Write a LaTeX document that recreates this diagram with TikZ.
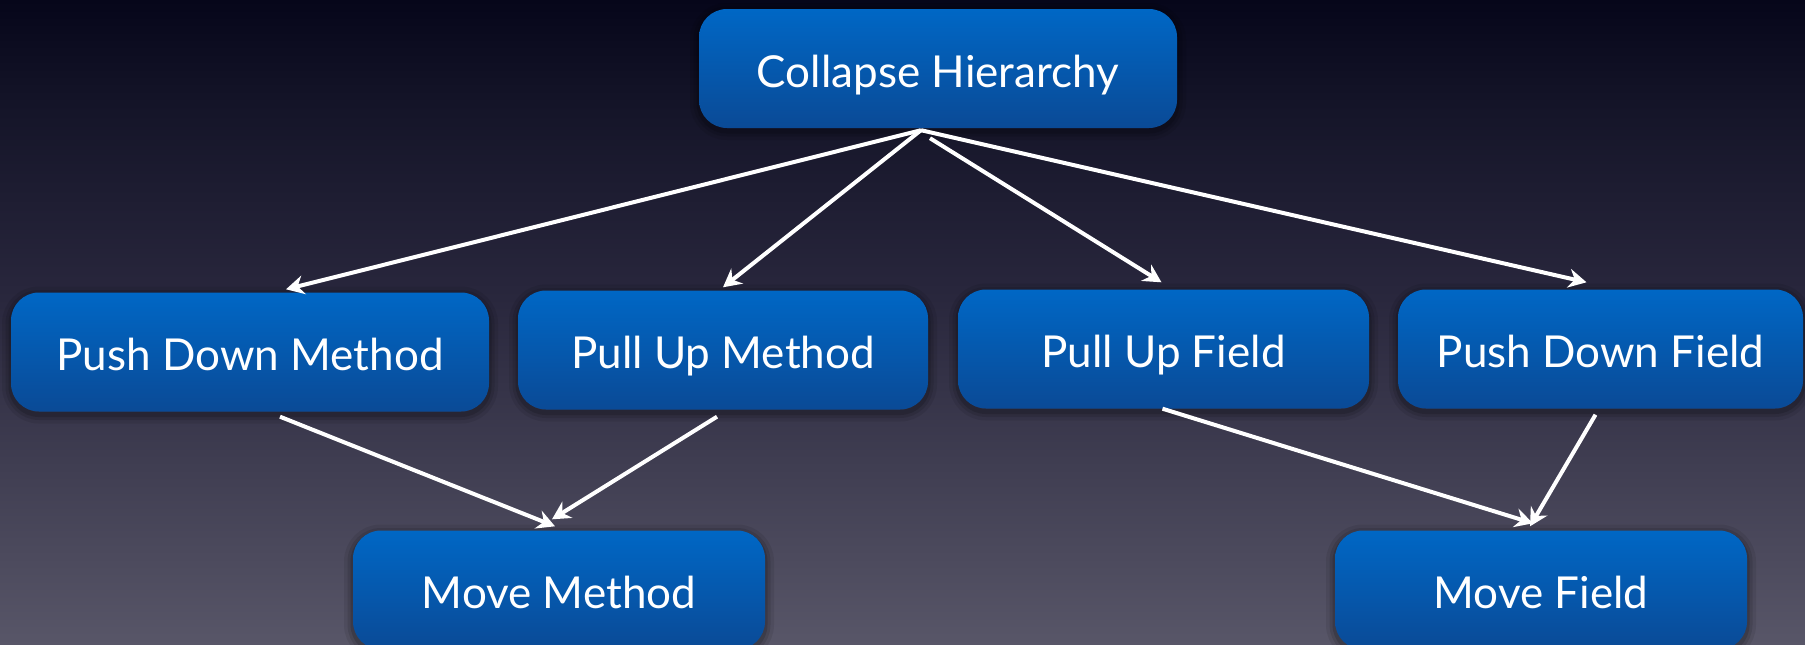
\documentclass[tikz,border=0pt]{standalone}
\usepackage{fontspec}
\setmainfont{Lato}
\usetikzlibrary{arrows.meta,calc,shadows}
\definecolor{bgtop}{RGB}{6,6,26}
\definecolor{bghi}{RGB}{20,20,40}
\definecolor{bgmid}{RGB}{40,38,60}
\definecolor{bgbot}{RGB}{88,86,104}
\definecolor{boxtop}{RGB}{0,103,197}
\definecolor{boxbot}{RGB}{10,74,150}
\pgfdeclareverticalshading{bgshade}{100bp}{color(0bp)=(bgbot); color(25bp)=(bgbot); color(52.5bp)=(bgmid); color(67bp)=(bghi); color(75bp)=(bgtop); color(100bp)=(bgtop)}
\tikzset{
  refbox/.style={rectangle, rounded corners=28pt, top color=boxtop, bottom color=boxbot,
    text=white, font=\fontsize{44}{50}\selectfont, inner sep=0pt,
    text height=37pt, text depth=0pt, minimum height=119pt,
    general shadow={draw=black, line width=18pt, opacity=0.08, shadow yshift=-3pt},
    general shadow={draw=black, line width=11pt, opacity=0.10, shadow yshift=-3pt},
    general shadow={draw=black, line width=5pt, opacity=0.14, shadow yshift=-3pt}},
  link/.style={draw=white, line width=4pt, -{Stealth[length=18pt,width=19pt,inset=6pt]}}
}
\begin{document}
\begin{tikzpicture}[x=1pt,y=-1pt]
\shade[shading=bgshade] (0,0) rectangle (1805,645);
\useasboundingbox (0,0) rectangle (1805,645);
\node[refbox, minimum width=478pt] (CH) at (938,68.5) {Collapse Hierarchy};
\node[refbox, minimum width=478pt] (PDM) at (250,352) {Push Down Method};
\node[refbox, minimum width=410pt] (PUM) at (723,350) {Pull Up Method};
\node[refbox, minimum width=411pt] (PUF) at (1163.5,349) {Pull Up Field};
\node[refbox, minimum width=405pt] (PDF) at (1600.5,349) {Push Down Field};
\node[refbox, minimum width=412pt] (MM) at (559,590) {Move Method};
\node[refbox, minimum width=412pt] (MF) at (1541,590) {Move Field};
\draw[link] ($(CH.south)+(-17,2)$) -- ($(PDM.north)+(36,-3)$);
\draw[link] ($(CH.south)+(-17,2)$) -- ($(PUM.north)+(0,-3)$);
\draw[link] ($(CH.south)+(-8,10)$) -- ($(PUF.north)+(-2,-7)$);
\draw[link] ($(CH.south)+(-17,2)$) -- ($(PDF.north)+(-14,-7)$);
\draw[link] ($(PDM.south)+(30,5)$) -- ($(MM.north)+(-4,-4)$);
\draw[link] ($(PUM.south)+(-6,7)$) -- ($(MM.north)+(-7,-11)$);
\draw[link] ($(PUF.south)+(-1,0)$) -- ($(MF.north)+(-8,-7)$);
\draw[link] ($(PDF.south)+(-5,6)$) -- ($(MF.north)+(-11,-4)$);
\end{tikzpicture}
\end{document}
